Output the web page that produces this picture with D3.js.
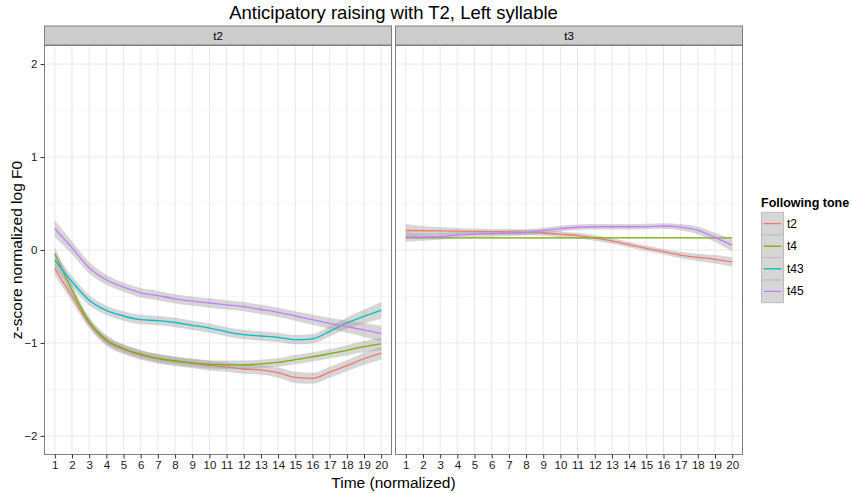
<!DOCTYPE html>
<html>
<head>
<meta charset="utf-8">
<script src="https://cdn.jsdelivr.net/npm/d3@7"></script>
<style>
  body { margin: 0; background: #fff; }
  text { font-family: "Liberation Sans", Arial, sans-serif; }
</style>
</head>
<body>
<div class="chart"></div>
<script>
// Data
const times = d3.range(1, 21).map(String);
const panels = ["t2", "t3"];
const tones = ["t2", "t4", "t43", "t45"];
const toneColors = ["#F8766D", "#7CAE00", "#00BFC4", "#C77CFF"];
const yTicks = [-2, -1, 0, 1, 2];

// panel t2
const t2_t2 = [-0.20, -0.50, -0.79, -0.98, -1.07, -1.13, -1.17, -1.20, -1.22, -1.245, -1.26, -1.28, -1.29, -1.32, -1.37, -1.38, -1.315, -1.245, -1.17, -1.11];
const t2_t4 = [-0.04, -0.43, -0.77, -0.965, -1.06, -1.12, -1.165, -1.19, -1.215, -1.23, -1.235, -1.235, -1.225, -1.21, -1.18, -1.15, -1.115, -1.08, -1.04, -1.01];
const t2_t43 = [-0.11, -0.34, -0.54, -0.65, -0.71, -0.75, -0.76, -0.78, -0.81, -0.84, -0.88, -0.91, -0.925, -0.94, -0.965, -0.955, -0.875, -0.785, -0.715, -0.65];
const t2_t45 = [0.23, 0.025, -0.19, -0.32, -0.40, -0.46, -0.49, -0.525, -0.55, -0.57, -0.59, -0.61, -0.64, -0.67, -0.71, -0.75, -0.79, -0.825, -0.86, -0.90];
// panel t3
const t3_t2 = [0.21, 0.207, 0.205, 0.203, 0.20, 0.197, 0.195, 0.19, 0.183, 0.17, 0.155, 0.13, 0.097, 0.057, 0.018, -0.018, -0.054, -0.079, -0.10, -0.129];
const t3_t4 = [0.13, 0.13, 0.13, 0.13, 0.13, 0.13, 0.13, 0.13, 0.13, 0.13, 0.13, 0.13, 0.13, 0.13, 0.13, 0.13, 0.13, 0.13, 0.13, 0.13];
const t3_t43 = [];
const t3_t45 = [0.14, 0.14, 0.145, 0.16, 0.17, 0.175, 0.18, 0.19, 0.21, 0.23, 0.245, 0.25, 0.25, 0.25, 0.252, 0.258, 0.245, 0.21, 0.135, 0.05];

// half-width of the grey confidence band
const se_t2 = [0.07, 0.06, 0.05, 0.05, 0.05, 0.05, 0.05, 0.05, 0.05, 0.05, 0.05, 0.05, 0.05, 0.055, 0.06, 0.06, 0.06, 0.06, 0.065, 0.07];
const se_t4 = [0.07, 0.06, 0.05, 0.05, 0.045, 0.045, 0.045, 0.045, 0.045, 0.045, 0.045, 0.045, 0.045, 0.045, 0.05, 0.05, 0.05, 0.055, 0.06, 0.065];
const se_t43 = [0.08, 0.06, 0.055, 0.05, 0.05, 0.05, 0.05, 0.05, 0.05, 0.05, 0.05, 0.05, 0.05, 0.05, 0.05, 0.05, 0.055, 0.06, 0.075, 0.09];
const se_t45 = [0.09, 0.07, 0.06, 0.055, 0.05, 0.05, 0.05, 0.05, 0.05, 0.05, 0.05, 0.05, 0.05, 0.05, 0.05, 0.055, 0.06, 0.065, 0.075, 0.085];
const se3_t2 = [0.07, 0.05, 0.04, 0.035, 0.03, 0.03, 0.03, 0.03, 0.03, 0.03, 0.03, 0.03, 0.03, 0.03, 0.03, 0.03, 0.035, 0.04, 0.045, 0.05];
const se3_t4 = d3.range(20).map(() => 0.004);
const se3_t45 = [0.05, 0.04, 0.035, 0.03, 0.03, 0.03, 0.03, 0.03, 0.03, 0.03, 0.03, 0.03, 0.03, 0.03, 0.03, 0.03, 0.035, 0.04, 0.05, 0.065];

const series = {
  t2: [t2_t2, t2_t4, t2_t43, t2_t45],
  t3: [t3_t2, t3_t4, t3_t43, t3_t45]
};
const bands = {
  t2: [se_t2, se_t4, se_t43, se_t45],
  t3: [se3_t2, se3_t4, [], se3_t45]
};

const width = 851, height = 493;
const svg = d3.select(".chart").append("svg")
  .attr("width", width)
  .attr("height", height);

const panelTop = 45.5, panelBottom = 454.5;
const panelLeft = [44.5, 395.5];
const panelW = 347;
const stripTop = 26, stripH = 19;

const y = d3.scaleLinear()
  .domain([-2.2, 2.2])
  .range([panelBottom, panelTop]);

// Title
svg.append("text")
  .attr("x", 393.5)
  .attr("y", 19)
  .attr("text-anchor", "middle")
  .style("font-size", "18.5px")
  .text("Anticipatory raising with T2, Left syllable");

panels.forEach((p, pi) => {
  const x0 = panelLeft[pi];
  const x = d3.scalePoint()
    .domain(times)
    .range([x0, x0 + panelW])
    .padding(0.6);

  const g = svg.append("g");

  // background + grid
  g.append("rect")
    .attr("x", x0).attr("y", panelTop)
    .attr("width", panelW).attr("height", panelBottom - panelTop)
    .attr("fill", "white");

  g.selectAll(".minor")
    .data([-1.5, -0.5, 0.5, 1.5])
    .join("line")
    .attr("x1", x0).attr("x2", x0 + panelW)
    .attr("y1", d => y(d)).attr("y2", d => y(d))
    .attr("stroke", "#f7f7f7")
    .attr("stroke-width", 1);

  g.selectAll(".hmajor")
    .data(yTicks)
    .join("line")
    .attr("x1", x0).attr("x2", x0 + panelW)
    .attr("y1", d => y(d)).attr("y2", d => y(d))
    .attr("stroke", "#e8e8e8")
    .attr("stroke-width", 1);

  g.selectAll(".vmajor")
    .data(times)
    .join("line")
    .attr("x1", d => x(d)).attr("x2", d => x(d))
    .attr("y1", panelTop).attr("y2", panelBottom)
    .attr("stroke", "#e8e8e8")
    .attr("stroke-width", 1);

  // smooths: ribbon then line for each group
  tones.forEach((t, ti) => {
    const vals = series[p][ti];
    if (!vals.length) return;
    const se = bands[p][ti];
    const rows = vals.map((v, i) => ({ t: times[i], v: v, s: se[i] }));

    const area = d3.area()
      .x(d => x(d.t))
      .y0(d => y(d.v - d.s))
      .y1(d => y(d.v + d.s))
      .curve(d3.curveMonotoneX);

    const line = d3.line()
      .x(d => x(d.t))
      .y(d => y(d.v))
      .curve(d3.curveMonotoneX);

    g.append("path")
      .datum(rows)
      .attr("d", area)
      .attr("fill", "#999999")
      .attr("fill-opacity", 0.4);

    g.append("path")
      .datum(rows)
      .attr("d", line)
      .attr("fill", "none")
      .attr("stroke", toneColors[ti])
      .attr("stroke-width", 1.3);
  });

  // border
  g.append("rect")
    .attr("x", x0).attr("y", panelTop)
    .attr("width", panelW).attr("height", panelBottom - panelTop)
    .attr("fill", "none")
    .attr("stroke", "#7f7f7f")
    .attr("stroke-width", 1);

  // strip
  g.append("rect")
    .attr("x", x0).attr("y", stripTop)
    .attr("width", panelW).attr("height", stripH)
    .attr("fill", "#cccccc")
    .attr("stroke", "#7f7f7f")
    .attr("stroke-width", 1);
  g.append("text")
    .attr("x", x0 + panelW / 2)
    .attr("y", stripTop + stripH / 2 + 4)
    .attr("text-anchor", "middle")
    .style("font-size", "11.5px")
    .text(p);

  // x axis
  const xAxis = g.append("g")
    .attr("transform", `translate(0,${panelBottom})`)
    .call(d3.axisBottom(x).tickSize(4).tickPadding(2));
  xAxis.select(".domain").remove();
  xAxis.selectAll("line").attr("stroke", "#333").attr("stroke-width", 1);
  xAxis.selectAll("text")
    .style("font-size", "11.5px")
    .style("font-family", "'Liberation Sans', Arial, sans-serif")
    .attr("fill", "#1a1a1a");
});

// y axis
const yAxis = svg.append("g")
  .attr("transform", `translate(${panelLeft[0]},0)`)
  .call(d3.axisLeft(y).tickValues(yTicks).tickSize(4).tickPadding(3).tickFormat(d3.format("d")));
yAxis.select(".domain").remove();
yAxis.selectAll("line").attr("stroke", "#333");
yAxis.selectAll("text")
  .style("font-size", "11.5px")
  .style("font-family", "'Liberation Sans', Arial, sans-serif")
  .attr("fill", "#1a1a1a");

// axis titles
svg.append("text")
  .attr("x", 393.5)
  .attr("y", 488)
  .attr("text-anchor", "middle")
  .style("font-size", "15.5px")
  .text("Time (normalized)");

svg.append("text")
  .attr("transform", `translate(22,${y(0)}) rotate(-90)`)
  .attr("text-anchor", "middle")
  .style("font-size", "15.5px")
  .text("z-score normalized log F0");

// legend
const legend = svg.append("g").attr("transform", "translate(761,0)");
legend.append("text")
  .attr("x", 0)
  .attr("y", 207)
  .style("font-size", "12.5px")
  .style("font-weight", "bold")
  .text("Following tone");

const keyH = 22.6, keyW = 22, keyTop = 212.3;
tones.forEach((t, i) => {
  const ky = keyTop + i * keyH;
  legend.append("rect")
    .attr("x", 0.5).attr("y", ky)
    .attr("width", keyW).attr("height", keyH)
    .attr("fill", "#d6d6d6")
    .attr("stroke", "#bdbdbd")
    .attr("stroke-width", 1);
  legend.append("line")
    .attr("x1", 2.5).attr("x2", keyW - 1.5)
    .attr("y1", ky + keyH / 2).attr("y2", ky + keyH / 2)
    .attr("stroke", toneColors[i])
    .attr("stroke-width", 1.3);
  legend.append("text")
    .attr("x", keyW + 4)
    .attr("y", ky + keyH / 2 + 4)
    .style("font-size", "12px")
    .text(t);
});
</script>
</body>
</html>
